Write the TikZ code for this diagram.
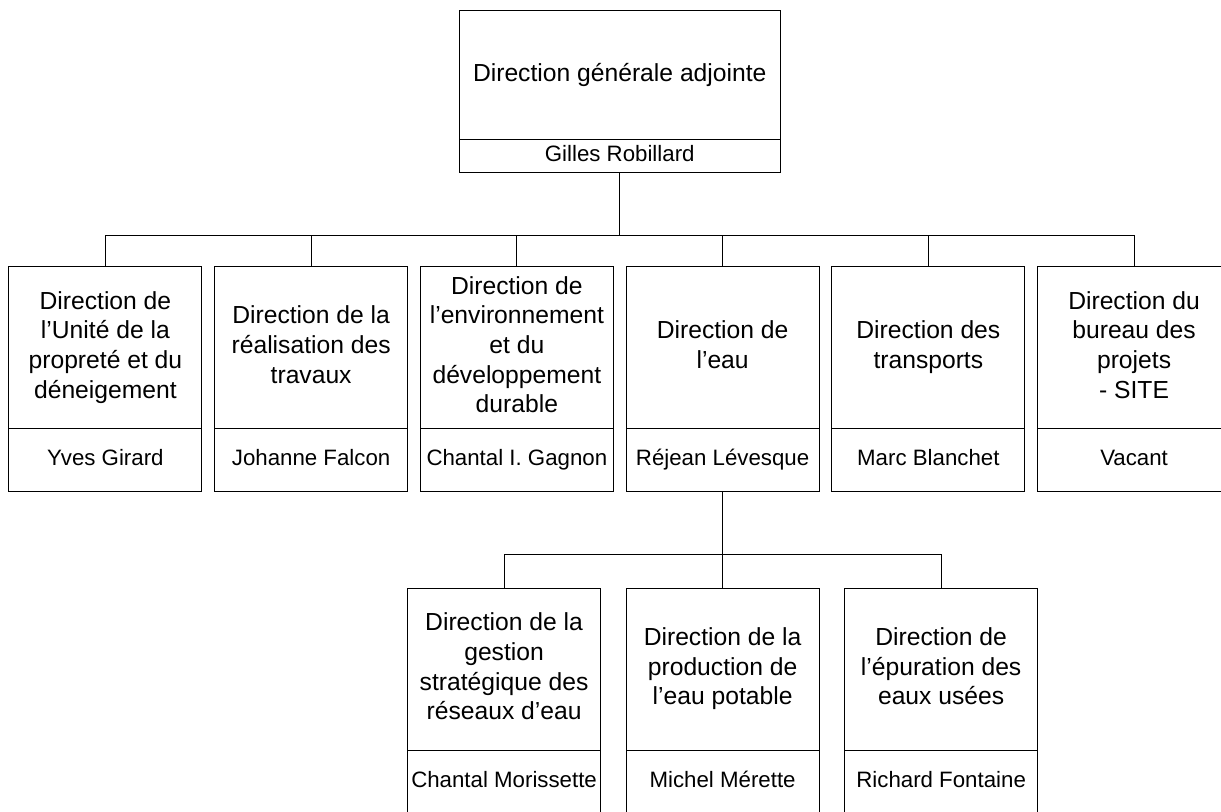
\documentclass[tikz,border=0pt]{standalone}
\usepackage{fontspec}
\setmainfont{Liberation Sans}
\usepackage{tikz}
\usetikzlibrary{trees,shapes.multipart}

\newcommand{\titlefont}{\fontsize{18.5pt}{22.25pt}\selectfont}
\newcommand{\namefont}{\fontsize{16.7pt}{19pt}\selectfont}
\newcommand{\orgunit}[3][46.5pt]{%
  \parbox[c][120.75pt][c]{144.75pt}{\centering\titlefont\strut #2\strut}%
  \nodepart{two}%
  \parbox[c][#1][c]{144.75pt}{\hbox to\linewidth{\hss\namefont\strut #3\hss}}}

\begin{document}
\begin{tikzpicture}[x=0.75pt,y=0.75pt,
    every node/.style={draw,line width=0.8pt,rectangle split,rectangle split parts=2,inner sep=0pt,anchor=north},
    edge from parent/.style={draw,line width=0.8pt},
    edge from parent path={(\tikzparentnode.south) -- ++(0,-62) -| (\tikzchildnode.north)},
    level 1/.style={level distance=130.875pt,sibling distance=154.3pt},
    level 2/.style={level distance=156.375pt,sibling distance=163.9pt}]
    \useasboundingbox (-619.75,10) rectangle (601.25,-801);
    \node (dga) {\parbox[c][96pt][c]{240.75pt}{\centering\titlefont\strut Direction générale adjointe\strut}%
        \nodepart{two}\parbox[c][24pt][c]{240.75pt}{\centering\namefont\strut Gilles Robillard\strut}}
      child {node (proprete) {\orgunit{Direction de\\l’Unité de la\\propreté et du\\déneigement}{Yves Girard}}}
      child {node (travaux) {\orgunit{Direction de la\\réalisation des\\travaux}{Johanne Falcon}}}
      child {node (environnement) {\orgunit{Direction de\\l’environnement\\et du\\développement\\durable}{Chantal I. Gagnon}}}
      child {node (eau) {\orgunit{Direction de\\l’eau}{Réjean Lévesque}}
          child {node (reseaux) {\orgunit[48pt]{Direction de la\\gestion\\stratégique des\\réseaux d’eau}{Chantal Morissette}}}
          child {node (potable) {\orgunit[48pt]{Direction de la\\production de\\l’eau potable}{Michel Mérette}}}
          child {node (epuration) {\orgunit[48pt]{Direction de\\l’épuration des\\eaux usées}{Richard Fontaine}}}
      }
      child {node (transports) {\orgunit{Direction des\\transports}{Marc Blanchet}}}
      child {node (projets) {\orgunit{Direction du\\bureau des\\projets\\- SITE}{Vacant}}}
        ;
\end{tikzpicture}
\end{document}
